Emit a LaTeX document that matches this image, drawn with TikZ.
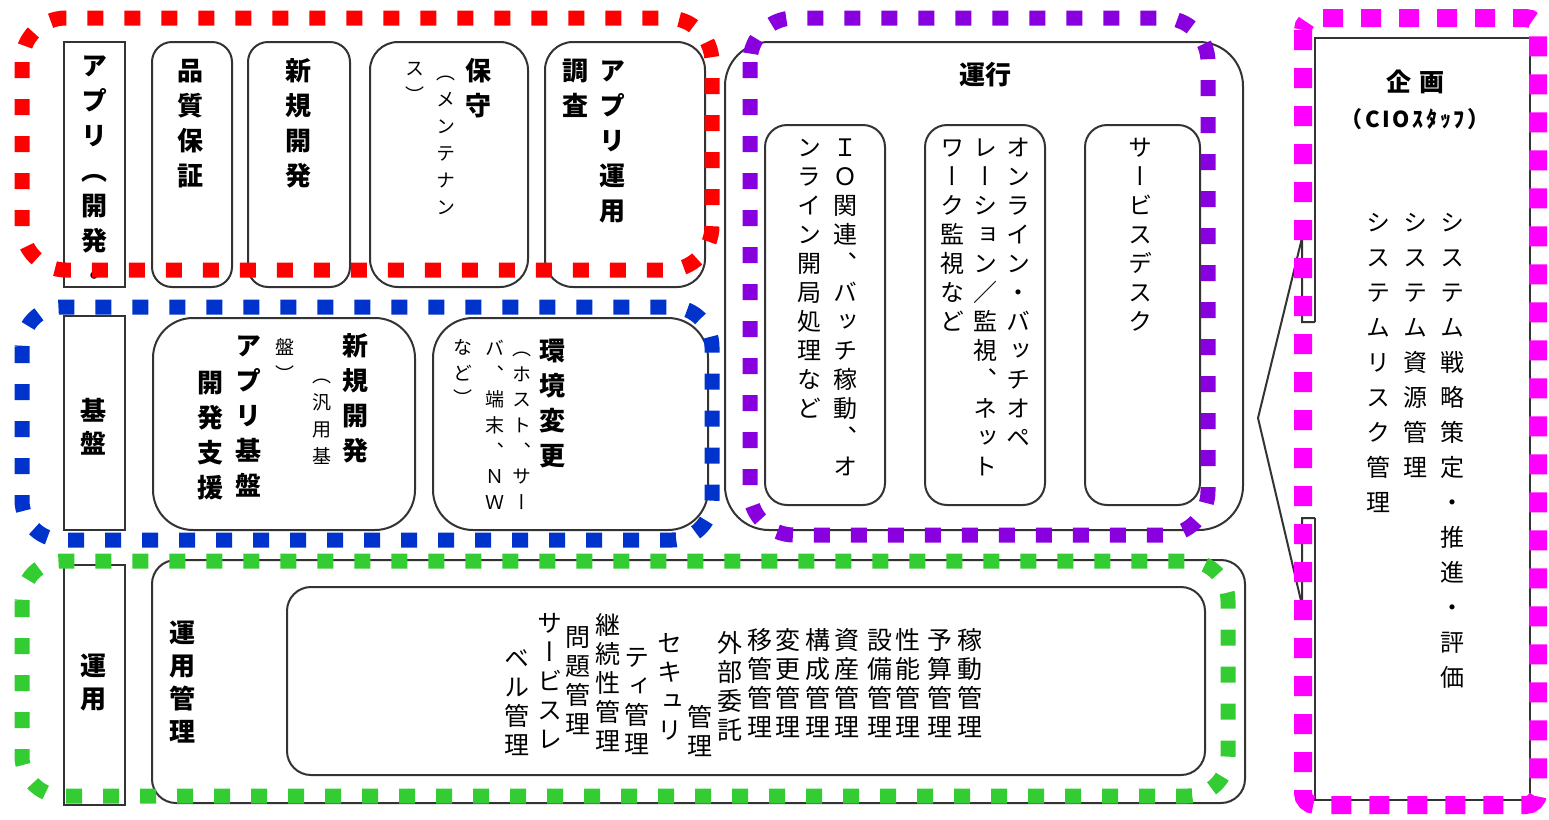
\documentclass[tikz,border=0pt]{standalone}
\usepackage{fontspec}
\setmainfont{Noto Sans CJK JP}
\newfontfamily\jpv{Noto Sans CJK JP}[RawFeature=+vert]
\definecolor{fred}{RGB}{255,0,0}
\definecolor{fblue}{RGB}{0,51,204}
\definecolor{fgreen}{RGB}{51,204,51}
\definecolor{fpurple}{RGB}{136,0,221}
\definecolor{fmag}{RGB}{255,0,255}
\ExplSyntaxOn
\NewDocumentCommand\vcol{m}{
  \rule{0pt}{0.9em}
  \bool_set_true:N \l_tmpa_bool
  \tl_map_inline:nn {#1} {
    \bool_if:NF \l_tmpa_bool { \\ }
    \bool_set_false:N \l_tmpa_bool
    ##1
  }
}
\ExplSyntaxOff
\tikzset{
  box/.style={draw=black!80, line width=1pt},
  frame/.style={line width=7.5pt, dash pattern=on 8pt off 10.5pt},
  vc/.style={anchor=north, inner sep=0pt, align=center},
  vb/.style={vc, yshift=6.76pt, font=\jpv\bfseries\fontsize{13}{17.5}\selectfont},
  vbs/.style={vc, yshift=6.76pt, font=\jpv\bfseries\fontsize{13}{16.5}\selectfont},
  vr/.style={vc, yshift=6.24pt, font=\jpv\fontsize{12}{14.5}\selectfont},
  vk/.style={vc, yshift=6.24pt, font=\jpv\fontsize{12}{17.5}\selectfont},
  vg/.style={vc, yshift=6.5pt, font=\jpv\fontsize{12.5}{14.5}\selectfont},
  vs/.style={vc, yshift=4.94pt, font=\jpv\fontsize{9.5}{13.5}\selectfont},
  vt/.style={vc, yshift=4.94pt, font=\jpv\fontsize{9.5}{12.8}\selectfont},
  hb/.style={inner sep=0pt, font=\bfseries\fontsize{13}{15}\selectfont},
}
\begin{document}
\begin{tikzpicture}[x=0.5pt,y=-0.5pt]
\useasboundingbox (0,0) rectangle (1549,820);
\fill[white] (0,0) rectangle (1549,820);

% ---------- red group (application) ----------
\draw[box] (64,42) rectangle (125,287);
\draw[box, rounded corners=10pt] (152,42) rectangle (232,287);
\draw[box, rounded corners=10pt] (248,42) rectangle (350,287);
\draw[box, rounded corners=14pt] (370,42) rectangle (528,287);
\draw[box, rounded corners=14pt] (545,42) rectangle (705,287);
\node[vb] (r1) at (94,65) {\vcol{アプリ（開発・}};
\node[vb] (r2) at (190,70) {\vcol{品質保証}};
\node[vb] (r3) at (298,70) {\vcol{新規開発}};
\node[vb] (r4a) at (478,70) {\vcol{保守}};
\node[vs] (r4b) at (446,72) {\vcol{（メンテナン}};
\node[vs] (r4c) at (415,68) {\vcol{ス）}};
\node[vb] (r5a) at (612,70) {\vcol{アプリ運用}};
\node[vb] (r5b) at (575,70) {\vcol{調査}};

% ---------- blue group (infrastructure) ----------
\draw[box] (64,316) rectangle (125,530);
\draw[box, rounded corners=20pt] (153,318) rectangle (415,530);
\draw[box, rounded corners=20pt] (433,318) rectangle (708,530);
\node[vbs] (b1) at (93,410) {\vcol{基盤}};
\node[vb] (b2a) at (355,345) {\vcol{新規開発}};
\node[vs] (b2b) at (322,375) {\vcol{（汎用基}};
\node[vs] (b2c) at (285,347) {\vcol{盤）}};
\node[vb] (b2d) at (248,345) {\vcol{アプリ基盤}};
\node[vb] (b2e) at (210,382) {\vcol{開発支援}};
\node[vb] (b3a) at (552,350) {\vcol{環境変更}};
\node[vt] (b3b) at (522,348) {\vcol{（ホスト、サー}};
\node[vt] (b3c) at (495,348) {\vcol{バ、端末、ＮＷ}};
\node[vt] (b3d) at (463,347) {\vcol{など）}};

% ---------- purple group (operation) ----------
\draw[box, rounded corners=22pt] (725,42) rectangle (1243,530);
\draw[box, rounded corners=11pt] (765,125) rectangle (885,505);
\draw[box, rounded corners=11pt] (925,125) rectangle (1045,505);
\draw[box, rounded corners=11pt] (1085,125) rectangle (1200,505);
\node[hb] (p0) at (985,75) {運行};
\node[vr] (p1a) at (845,147) {\vcol{ＩＯ関連、バッチ稼動、オ}};
\node[vr] (p1b) at (809,147) {\vcol{ンライン開局処理など}};
\node[vr] (p2a) at (1018,147) {\vcol{オンライン・バッチオペ}};
\node[vr] (p2b) at (985,147) {\vcol{レーション／監視、ネット}};
\node[vr] (p2c) at (952,147) {\vcol{ワーク監視など}};
\node[vr] (p3) at (1140,147) {\vcol{サービスデスク}};

% ---------- green group (management) ----------
\draw[box] (64,565) rectangle (125,805);
\draw[box, rounded corners=12pt] (152,560) rectangle (1245,803);
\draw[box, rounded corners=12pt] (287,587) rectangle (1205,775);
\node[vbs] (g1) at (93,665) {\vcol{運用}};
\node[vbs] (g2) at (182,632) {\vcol{運用管理}};
\node[vg] (g01) at (970,640) {\vcol{稼動管理}};
\node[vg] (g02) at (940,640) {\vcol{予算管理}};
\node[vg] (g03) at (908,640) {\vcol{性能管理}};
\node[vg] (g04) at (880,640) {\vcol{設備管理}};
\node[vg] (g05) at (847,640) {\vcol{資産管理}};
\node[vg] (g06) at (818,640) {\vcol{構成管理}};
\node[vg] (g07) at (788,640) {\vcol{変更管理}};
\node[vg] (g08) at (760,640) {\vcol{移管管理}};
\node[vg] (g09) at (730,643) {\vcol{外部委託}};
\node[vg] (g10) at (700,717) {\vcol{管理}};
\node[vg] (g11) at (670,643) {\vcol{セキュリ}};
\node[vg] (g12) at (637,657) {\vcol{ティ管理}};
\node[vg] (g13) at (608,625) {\vcol{継続性管理}};
\node[vg] (g14) at (578,637) {\vcol{問題管理}};
\node[vg] (g15) at (550,623) {\vcol{サービスレ}};
\node[vg] (g16) at (517,658) {\vcol{ベル管理}};

% ---------- magenta group (planning) ----------
\draw[box] (1315,322) -- (1315,38) -- (1530,38) -- (1530,800) -- (1315,800) -- (1315,518);
\draw[box] (1315,322) -- (1302,322) -- (1302,238) -- (1258,418) -- (1302,605) -- (1302,518) -- (1315,518);
\node[hb, font=\bfseries\fontsize{12.5}{15}\selectfont] (m0) at (1415,82) {企\hspace{4pt}画};
\node[hb, font=\bfseries\fontsize{11}{13}\selectfont\addfontfeatures{LetterSpace=12}] (m1) at (1415,119) {（CIOｽﾀｯﾌ）};
\node[vk] (m2) at (1452,222) {\vcol{システム戦略策定・推進・評価}};
\node[vk] (m3) at (1415,222) {\vcol{システム資源管理}};
\node[vk] (m4) at (1378,222) {\vcol{システムリスク管理}};

% ---------- dotted frames ----------
\draw[frame, draw=fred, rounded corners=22pt] (22,18) rectangle (712,270);
\draw[frame, draw=fblue, rounded corners=20pt] (22,307) rectangle (712,540);
\draw[frame, draw=fgreen, rounded corners=20pt] (22,561) rectangle (1228,796);
\draw[frame, draw=fpurple, rounded corners=22pt] (750,18) rectangle (1208,535);
\draw[frame, draw=fmag, line width=9pt, dash pattern=on 10pt off 9pt, rounded corners=6pt] (1303,18) rectangle (1538,805);
\end{tikzpicture}
\end{document}
